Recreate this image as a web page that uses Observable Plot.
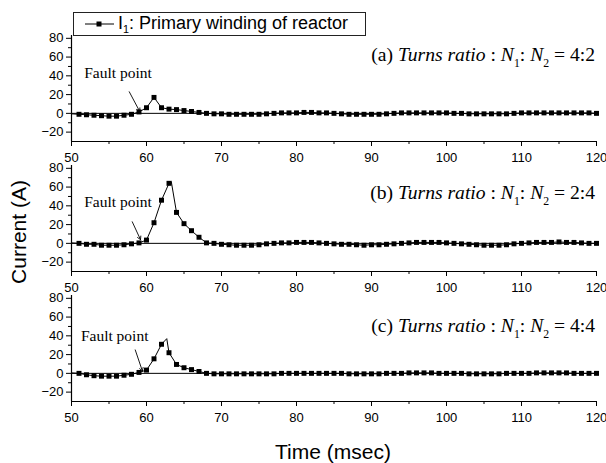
<!DOCTYPE html>
<html><head><meta charset="utf-8">
<script src="https://cdn.jsdelivr.net/npm/d3@7"></script>
<script src="https://cdn.jsdelivr.net/npm/@observablehq/plot@0.6"></script>
<style>
body{margin:0;background:#fff}
#wrap{position:relative;width:606px;height:463px;overflow:hidden;background:#fff}
.panel{position:absolute;left:0}
.panel svg{overflow:visible}
#legend{position:absolute;left:73px;top:12px;width:291px;height:22px;border:1px solid #222;background:#fff;
  font-family:'Liberation Sans',Arial,sans-serif;font-size:18px;line-height:22px;white-space:nowrap}
#legend svg{position:absolute;left:11px;top:6px}
#legend span{position:absolute;left:44px;top:-1px}
#legend sub{font-size:0.6em;vertical-align:-0.35em;line-height:0}
.title{position:absolute;right:11px;font-family:'Liberation Serif','Times New Roman',serif;font-size:19.6px;line-height:20px;white-space:nowrap;color:#000}
.title sub{font-size:0.6em;vertical-align:-0.55em;line-height:0}
#xlabel{position:absolute;left:0;width:606px;padding-left:60px;box-sizing:border-box;text-align:center;top:440px;font-family:'Liberation Sans',Arial,sans-serif;font-size:21px;line-height:24px}
#ylabel{position:absolute;left:19px;top:232px;transform:translate(-50%,-50%) rotate(-90deg);font-family:'Liberation Sans',Arial,sans-serif;font-size:21px;line-height:24px;white-space:nowrap}
</style></head>
<body><div id="wrap"></div>
<script>
const time = [50,51,52,53,54,55,56,57,58,59,60,61,62,63,64,65,66,67,68,69,70,71,72,73,74,75,76,77,78,79,80,81,82,83,84,85,86,87,88,89,90,91,92,93,94,95,96,97,98,99,100,101,102,103,104,105,106,107,108,109,110,111,112,113,114,115,116,117,118,119,120];
const currentA = [-0.5,-1,-1.5,-2,-2.5,-3,-3,-2,-1,1.5,6,17,6,4.5,4,3,2,1,0,-0.5,-0.5,-1,-1,-1,-1,-1,-0.5,0,0.5,0.5,0.5,1,1,0.5,0.5,0,-0.5,-1,-1,-1,-1,-1,-0.5,0,0.5,0.5,0.5,0.5,0.5,0.5,0.5,0,0,-0.5,-0.5,-0.5,-0.5,-0.5,-0.5,0,0.5,0.5,0.5,0.5,0.5,0.5,0.5,0.5,0.5,0.5,0];
const currentB = [0.5,0,-1,-1,-2,-2,-2,-1.5,-0.5,0.5,3.5,22,46,64,33,21,13.5,6.5,0.5,0,-1,-1.5,-2,-2,-2,-1.5,-0.5,0,0.5,0.5,1,1,1,0.5,0,-0.5,-1,-1,-1.5,-2,-1.5,-1.5,-1,-0.5,0,0.5,1,1,1,1,0.5,0,-0.5,-1,-1.5,-2,-2,-2,-1.5,-0.5,0,0.5,1,1,1,1.5,1,1,0.5,0,0];
const currentC = [0.5,0,-1.5,-2.5,-3,-3,-3,-2,-1,1,3.5,15.5,31,22,9.5,6,4,2,0,-0.5,-0.5,-0.5,-0.5,-0.5,-0.5,-0.5,-0.5,-0.5,0,0,0,0,0,0,0,0,0,-0.5,-0.5,-0.5,-0.5,-0.5,0,0,0,0.5,0.5,0.5,0.5,0,0,0,0,-0.5,-0.5,-0.5,-0.5,-0.5,0,0,0,0,0.5,0.5,0.5,0.5,0.5,0,0,0,0];
// extra line samples at the true peak (between markers)
const peakTime = [null, 63.3, 62.7];
const peakValue = [null, 66, 37];
const xTicks = [50,60,70,80,90,100,110,120];
const xMinorTicks = [55,65,75,85,95,105,115];
const yTicks = [-20,0,20,40,60,80];
const yMinorTicks = [-10,10,30,50,70];
const panelTags = ["(a)","(b)","(c)"];
const ratios = ["4:2","2:4","4:4"];
const faultX = [51.7, 51.7, 51.25];
const faultY = [43, 44, 40];
const arrowX1 = [57.7, 58.1, 58.5];
const arrowY1 = [23, 23, 25];
const arrowX2 = [59.1, 59.2, 59.45];
const arrowY2 = [2, 4, 2.5];
const legendLabel = "Primary winding of reactor";

const series = [currentA, currentB, currentC];
const panelTop = [29, 159, 289];
const titleTop = [45, 183, 316];

const wrap = document.getElementById("wrap");

series.forEach((vals, i) => {
  const pts = time.map((t, k) => ({t, v: vals[k]}));
  const linePts = pts.slice();
  if (peakTime[i] != null) linePts.push({t: peakTime[i], v: peakValue[i]});
  linePts.sort((a, b) => a.t - b.t);
  const chart = Plot.plot({
    width: 606, height: 136,
    marginLeft: 71, marginRight: 10, marginTop: 6, marginBottom: 24,
    x: {domain: [50, 120]},
    y: {domain: [-30, 83]},
    style: {fontFamily: "'Liberation Sans', Arial, sans-serif", fontSize: "13px", color: "#000", background: "transparent", overflow: "visible"},
    marks: [
      Plot.ruleY([0], {stroke: "#000", strokeWidth: 1}),
      Plot.line(linePts, {x: "t", y: "v", stroke: "#000", strokeWidth: 1}),
      Plot.dot(pts.filter(d => d.t > 50), {x: "t", y: "v", symbol: "square", r: 2.8, fill: "#000", stroke: null}),
      Plot.arrow([{x1: arrowX1[i], y1: arrowY1[i], x2: arrowX2[i], y2: arrowY2[i]}], {x1: "x1", y1: "y1", x2: "x2", y2: "y2", stroke: "#000", strokeWidth: 0.9, headLength: 6}),
      Plot.text([{x: faultX[i], y: faultY[i], label: "Fault point"}], {x: "x", y: "y", text: "label", textAnchor: "start", fontFamily: "'Liberation Serif', 'Times New Roman', serif", fontSize: 15.5, fill: "#000"}),
      Plot.axisX({ticks: xTicks, tickSize: 5, tickPadding: 6, label: null}),
      Plot.axisX({ticks: xMinorTicks, tickSize: 3, tickFormat: () => "", label: null}),
      Plot.axisY({ticks: yTicks, tickSize: 5, tickPadding: 3, label: null}),
      Plot.axisY({ticks: yMinorTicks, tickSize: 3, tickFormat: () => "", label: null}),
      Plot.ruleX([50], {stroke: "#000", strokeWidth: 1.2}),
      Plot.ruleY([-30], {stroke: "#000", strokeWidth: 1.2})
    ]
  });
  const div = document.createElement("div");
  div.className = "panel";
  div.style.top = panelTop[i] + "px";
  div.appendChild(chart);
  wrap.appendChild(div);

  const t = document.createElement("div");
  t.className = "title";
  t.style.top = titleTop[i] + "px";
  t.innerHTML = `${panelTags[i]} <i>Turns ratio</i> : <i>N</i><sub>1</sub>: <i>N</i><sub>2</sub> = ${ratios[i]}`;
  wrap.appendChild(t);
});

const legend = document.createElement("div");
legend.id = "legend";
legend.innerHTML = `<svg width="30" height="10"><line x1="0" y1="5" x2="29" y2="5" stroke="#000" stroke-width="1"/><rect x="11.5" y="2.5" width="5" height="5" fill="#000"/></svg><span>I<sub>1</sub>: ${legendLabel}</span>`;
wrap.appendChild(legend);

const xl = document.createElement("div");
xl.id = "xlabel"; xl.textContent = "Time (msec)";
wrap.appendChild(xl);
const yl = document.createElement("div");
yl.id = "ylabel"; yl.textContent = "Current (A)";
wrap.appendChild(yl);
</script>
</body></html>
